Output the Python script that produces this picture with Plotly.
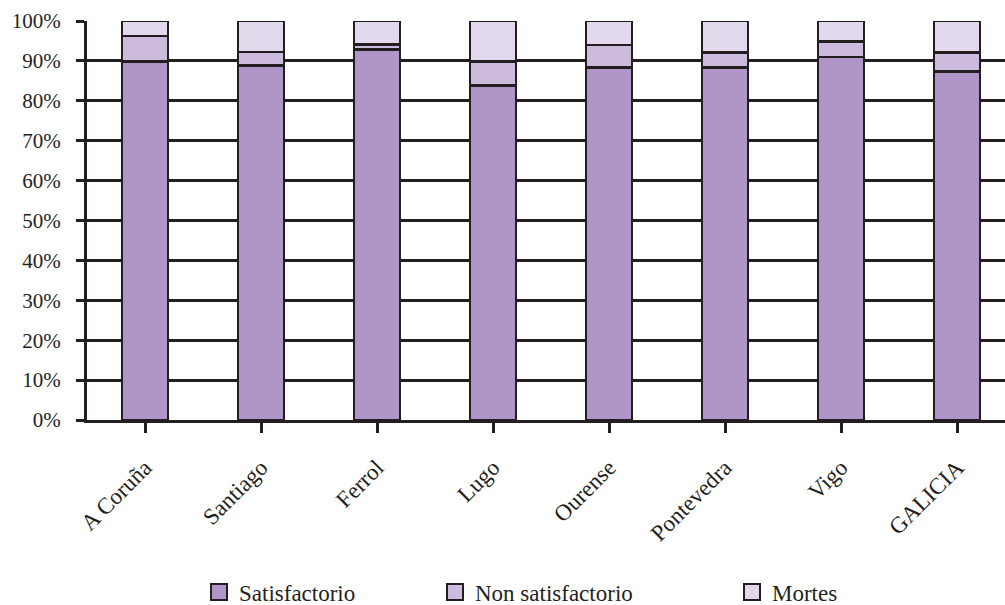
import plotly.graph_objects as go

categories = ["A Coruña", "Santiago", "Ferrol", "Lugo", "Ourense", "Pontevedra", "Vigo", "GALICIA"]
satisfactorio = [89.8, 88.8, 92.9, 83.8, 88.3, 88.4, 91.0, 87.3]
non_satisfactorio = [6.4, 3.4, 1.2, 6.0, 5.7, 3.7, 3.9, 4.8]
mortes = [3.8, 7.8, 5.9, 10.2, 6.0, 7.9, 5.1, 7.9]
y_ticks = [0, 10, 20, 30, 40, 50, 60, 70, 80, 90, 100]

series_names = ["Satisfactorio", "Non satisfactorio", "Mortes"]
series_vals = [satisfactorio, non_satisfactorio, mortes]
colors = ["#B096C8", "#CCBBDD", "#E2DAEC"]
ink = "#231F20"
font_family = "Liberation Serif"

fig = go.Figure()
for name, vals, col in zip(series_names, series_vals, colors):
    fig.add_trace(go.Bar(
        x=list(range(len(categories))), y=vals, name=name,
        marker=dict(color=col, line=dict(color=ink, width=2.5)),
        showlegend=False,
    ))

legend_ids = ["legend", "legend2", "legend3"]
for name, col, lid in zip(series_names, colors, legend_ids):
    fig.add_trace(go.Scatter(
        x=[None], y=[None], mode="markers", name=name,
        marker=dict(symbol="square", size=20, color=col, line=dict(color=ink, width=2)),
        legend=lid, showlegend=True,
    ))

L, W = 87, 918
unit = 116.0
plot_top, plot_bot = 21, 420
H = plot_bot - plot_top

def px_to_paper_x(px):
    return (px - L) / W

def px_to_paper_y(py):
    return (plot_bot - py) / H

legend_common = dict(
    orientation="h", yanchor="middle", xanchor="left",
    font=dict(family=font_family, size=23, color=ink),
    bgcolor="rgba(0,0,0,0)", borderwidth=0, itemsizing="trace",
)
text_x = [239, 475, 772]
fig.update_layout(
    legend=dict(x=px_to_paper_x(text_x[0] - 40), y=px_to_paper_y(592), **legend_common),
    legend2=dict(x=px_to_paper_x(text_x[1] - 40), y=px_to_paper_y(592), **legend_common),
    legend3=dict(x=px_to_paper_x(text_x[2] - 40), y=px_to_paper_y(592), **legend_common),
)

fig.update_layout(
    width=1005, height=605,
    margin=dict(l=L, r=1005 - L - W, t=plot_top, b=605 - plot_bot, pad=0, autoexpand=False),
    paper_bgcolor="white", plot_bgcolor="white",
    barmode="stack", bargap=0.6,
    font=dict(family=font_family, size=21, color=ink),
    xaxis=dict(
        range=[-0.5, -0.5 + W / unit],
        tickmode="array", tickvals=list(range(len(categories))), ticktext=categories,
        tickson="boundaries", ticks="outside", ticklen=10, tickwidth=3, tickcolor=ink,
        tickangle=-45, ticklabelstandoff=12,
        showline=True, linecolor=ink, linewidth=3,
        showgrid=False, zeroline=False, automargin=False,
        tickfont=dict(family=font_family, size=23, color=ink),
    ),
    yaxis=dict(
        range=[0, 100], tickmode="array", tickvals=y_ticks,
        ticktext=[f"{v}%" for v in y_ticks],
        ticks="outside", ticklen=8, tickwidth=3, tickcolor=ink,
        ticklabelstandoff=11, automargin=False,
        showline=True, linecolor=ink, linewidth=3,
        showgrid=True, gridcolor=ink, gridwidth=3,
        zeroline=False,
        tickfont=dict(family=font_family, size=21, color=ink),
    ),
)

fig.write_html("out.html")
